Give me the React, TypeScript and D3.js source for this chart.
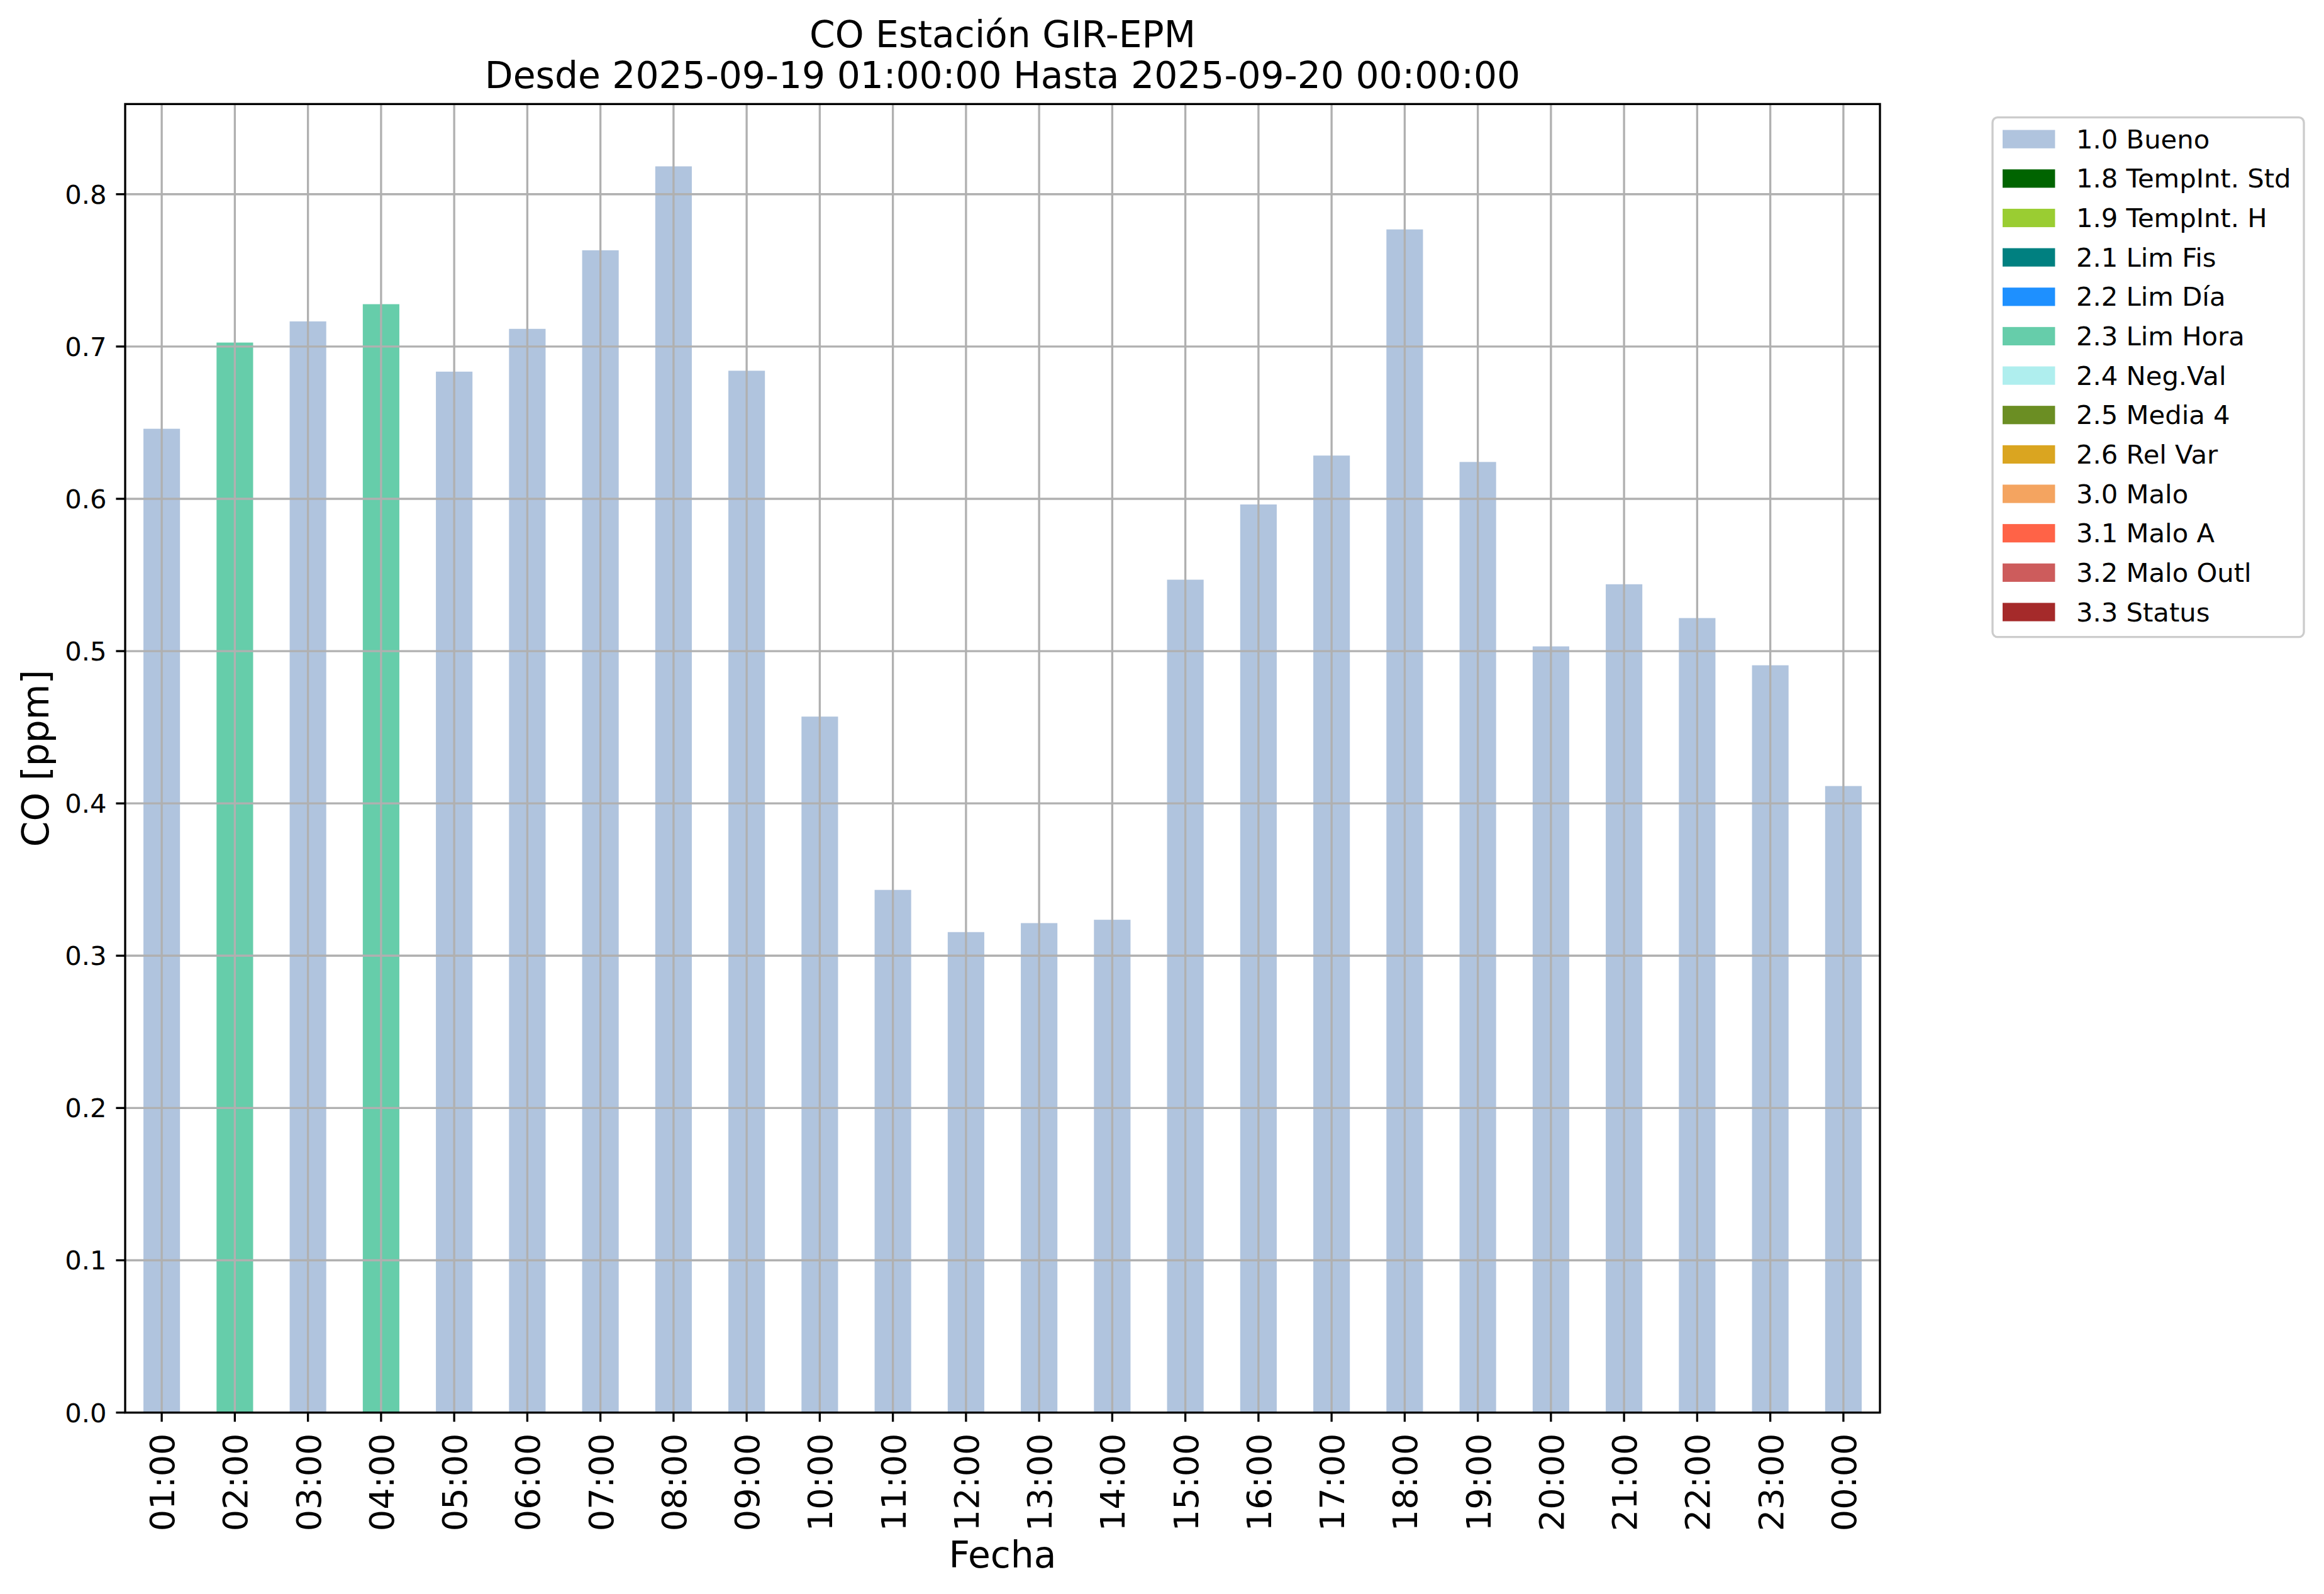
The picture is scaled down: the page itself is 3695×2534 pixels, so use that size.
import React from 'react';
import * as d3 from 'd3';

const hours: string[] = ['01:00','02:00','03:00','04:00','05:00','06:00','07:00','08:00','09:00','10:00','11:00','12:00','13:00','14:00','15:00','16:00','17:00','18:00','19:00','20:00','21:00','22:00','23:00','00:00'];
const values: number[] = [0.646,0.7026,0.7165,0.7278,0.6835,0.7116,0.7632,0.8183,0.6841,0.4570,0.3432,0.3155,0.3214,0.3236,0.5469,0.5963,0.6284,0.7769,0.6242,0.5031,0.5439,0.5217,0.4907,0.4114];
const flags: string[] = ['1.0','2.3','1.0','2.3','1.0','1.0','1.0','1.0','1.0','1.0','1.0','1.0','1.0','1.0','1.0','1.0','1.0','1.0','1.0','1.0','1.0','1.0','1.0','1.0'];
const legendCodes: string[] = ['1.0','1.8','1.9','2.1','2.2','2.3','2.4','2.5','2.6','3.0','3.1','3.2','3.3'];
const legendLabels: string[] = ['1.0 Bueno','1.8 TempInt. Std','1.9 TempInt. H','2.1 Lim Fis','2.2 Lim Día','2.3 Lim Hora','2.4 Neg.Val','2.5 Media 4','2.6 Rel Var','3.0 Malo','3.1 Malo A','3.2 Malo Outl','3.3 Status'];
const legendColors: string[] = ['#B0C4DE','#006400','#9ACD32','#008080','#1E90FF','#66CDAA','#AFEEEE','#6B8E23','#DAA520','#F4A460','#FF6347','#CD5C5C','#A52A2A'];
const yTicks: number[] = [0, 0.1, 0.2, 0.3, 0.4, 0.5, 0.6, 0.7, 0.8];
const titleLines: string[] = ['CO Estación GIR-EPM', 'Desde 2025-09-19 01:00:00 Hasta 2025-09-20 00:00:00'];

const W = 3695, H = 2534;
const L = 199, R = 2989, T = 165.4, B = 2245.6;
const FONT = 'DejaVu Sans, Verdana, sans-serif';
const LW = 3.33;

export default function App() {
  const x = d3.scaleLinear().domain([-0.5, hours.length - 0.5]).range([L, R]);
  const ymax = (d3.max(values) as number) * 1.05;
  const y = d3.scaleLinear().domain([0, ymax]).range([B, T]);
  const colorOf = d3.scaleOrdinal<string, string>().domain(legendCodes).range(legendColors);
  const barW = x(0.5) - x(0);

  const legX = 3168, legY = 186.7, legW = 495, legH = 826;
  const rowH = 62.65, firstRow = 221.2;

  return (
    <svg width={W} height={H} style={{ position: 'absolute', left: 0, top: 0, background: '#fff' }} fontFamily={FONT}>
      <rect x={0} y={0} width={W} height={H} fill="#fff" />
      {values.map((v, i) => (
        <rect key={'b' + i} x={x(i) - barW / 2} y={y(v)} width={barW} height={B - y(v)} fill={colorOf(flags[i])} />
      ))}
      {yTicks.map((t) => (
        <line key={'gy' + t} x1={L} x2={R} y1={y(t)} y2={y(t)} stroke="#b0b0b0" strokeWidth={LW} />
      ))}
      {hours.map((h, i) => (
        <line key={'gx' + i} x1={x(i)} x2={x(i)} y1={T} y2={B} stroke="#b0b0b0" strokeWidth={LW} />
      ))}
      <rect x={L} y={T} width={R - L} height={B - T} fill="none" stroke="#000" strokeWidth={LW} />
      {yTicks.map((t) => (
        <g key={'ty' + t}>
          <line x1={L - 14.6} x2={L} y1={y(t)} y2={y(t)} stroke="#000" strokeWidth={LW} />
          <text x={L - 29.5} y={y(t) + 15} fontSize={41.7} textAnchor="end" fill="#000">{d3.format('.1f')(t)}</text>
        </g>
      ))}
      {hours.map((h, i) => (
        <g key={'tx' + i}>
          <line x1={x(i)} x2={x(i)} y1={B} y2={B + 14.6} stroke="#000" strokeWidth={LW} />
          <text transform={`translate(${x(i) + 20},${B + 33}) rotate(-90)`} fontSize={54} textAnchor="end" fill="#000">{h}</text>
        </g>
      ))}
      <text x={(L + R) / 2} y={2491.7} fontSize={58.3} textAnchor="middle" fill="#000">Fecha</text>
      <text transform={`translate(${77},${(T + B) / 2}) rotate(-90)`} fontSize={58.3} textAnchor="middle" fill="#000">CO [ppm]</text>
      <text x={(L + R) / 2} y={75} fontSize={58.3} textAnchor="middle" fill="#000">{titleLines[0]}</text>
      <text x={(L + R) / 2} y={140} fontSize={58.3} textAnchor="middle" fill="#000">{titleLines[1]}</text>
      <rect x={legX} y={legY} width={legW} height={legH} rx={8} ry={8} fill="#fff" fillOpacity={0.8} stroke="#cccccc" strokeWidth={LW} />
      {legendLabels.map((lab, i) => (
        <g key={'l' + i}>
          <rect x={3184} y={firstRow + i * rowH - 14.6} width={83.4} height={29.2} fill={legendColors[i]} />
          <text x={3301} y={firstRow + i * rowH + 14.6} fontSize={41.7} fill="#000">{lab}</text>
        </g>
      ))}
    </svg>
  );
}
